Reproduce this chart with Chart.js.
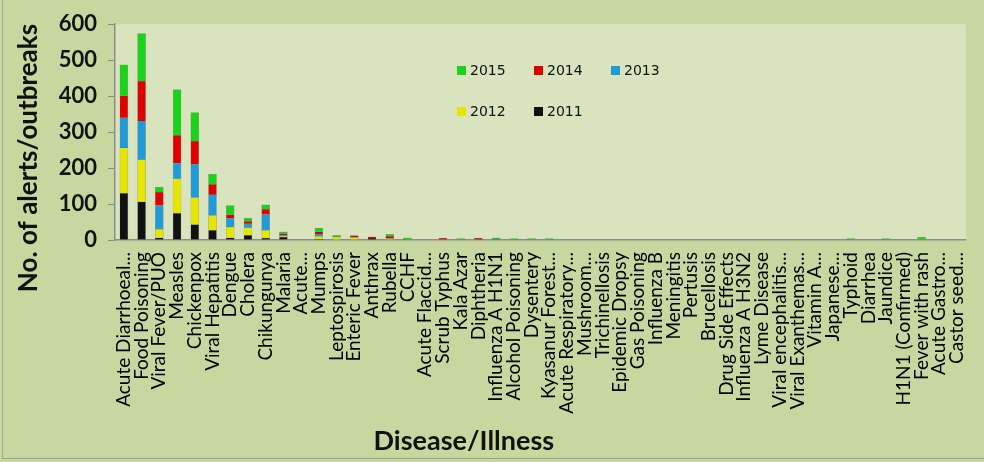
<!DOCTYPE html>
<html>
<head>
<meta charset="utf-8">
<script src="https://cdn.jsdelivr.net/npm/chart.js@4.4.0/dist/chart.umd.min.js"></script>
<style>
  html, body { margin: 0; padding: 0; background: #c6d89f; }
  canvas { display: block; }
</style>
</head>
<body>
<canvas id="chart" width="984" height="462"></canvas>
<script>
// 疾患別のアラート/アウトブレイク件数（2011〜2015、積み上げ）
const diseases = [
  'Acute Diarrhoeal...', 'Food Poisoning', 'Viral Fever/PUO', 'Measles', 'Chickenpox',
  'Viral Hepatitis', 'Dengue', 'Cholera', 'Chikungunya', 'Malaria',
  'Acute...', 'Mumps', 'Leptospirosis', 'Enteric Fever', 'Anthrax',
  'Rubella', 'CCHF', 'Acute Flaccid...', 'Scrub Typhus', 'Kala Azar',
  'Diphtheria', 'Influenza A H1N1', 'Alcohol Poisoning', 'Dysentery', 'Kyasanur Forest...',
  'Acute Respiratory...', 'Mushroom...', 'Trichinellosis', 'Epidemic Dropsy', 'Gas Poisoning',
  'Influenza B', 'Meningitis', 'Pertusis', 'Brucellosis', 'Drug Side Effects',
  'Influenza A H3N2', 'Lyme Disease', 'Viral encephalitis...', 'Viral Exanthemas...', 'Vitamin A...',
  'Japanese...', 'Typhoid', 'Diarrhea', 'Jaundice', 'H1N1 (Confirmed)',
  'Fever with rash', 'Acute Gastro...', 'Castor seed...',
];

const y2011 = [130, 106, 6, 74, 43, 27, 6, 13, 5, 8, 0, 1, 0, 0, 5, 0, 0, 0, 0, 0, 0, 0, 0, 0, 0,
  0, 0, 0, 0, 0, 0, 0, 0, 0, 0, 0, 0, 0, 0, 0, 0, 0, 0, 0, 0, 0, 0, 0];
const y2012 = [126, 117, 24, 96, 75, 41, 30, 21, 22, 3, 0, 9, 8, 7, 0, 4, 0, 0, 0, 0, 0, 0, 0, 0, 0,
  0, 0, 0, 0, 0, 0, 0, 0, 0, 0, 0, 0, 0, 0, 0, 0, 0, 0, 0, 0, 0, 0, 0];
const y2013 = [84, 108, 66, 44, 93, 58, 25, 11, 44, 3, 0, 7, 1, 1, 0, 1, 0, 0, 0, 0, 0, 3, 0, 0, 0,
  0, 0, 0, 0, 0, 0, 0, 0, 0, 0, 0, 0, 0, 0, 0, 0, 0, 0, 0, 0, 0, 0, 0];
const y2014 = [61, 111, 37, 77, 64, 29, 10, 7, 14, 4, 0, 6, 0, 4, 4, 5, 0, 0, 5, 0, 5, 0, 0, 0, 0,
  0, 0, 0, 0, 0, 0, 0, 0, 0, 0, 0, 0, 0, 0, 0, 0, 0, 0, 0, 0, 0, 0, 0];
const y2015 = [86, 132, 14, 127, 79, 28, 25, 9, 13, 5, 0, 10, 4, 0, 0, 6, 6, 0, 0, 4, 0, 3, 4, 4, 4,
  0, 0, 0, 0, 0, 0, 0, 0, 0, 0, 0, 0, 0, 0, 0, 0, 4, 0, 4, 0, 8, 0, 0];

const yTicks = [0, 100, 200, 300, 400, 500, 600];

// 背景（外枠と描画領域）
const backgroundPlugin = {
  id: 'bg',
  beforeDraw(chart) {
    const { ctx, chartArea: a, width, height } = chart;
    ctx.save();
    ctx.fillStyle = '#c6d89f';
    ctx.fillRect(0, 0, width, height);
    ctx.fillStyle = '#d9e4bf';
    ctx.fillRect(a.left, a.top, a.right - a.left, a.bottom - a.top);
    ctx.strokeStyle = '#9aa78a';
    ctx.lineWidth = 1;
    ctx.beginPath();
    ctx.moveTo(2.5, 0);
    ctx.lineTo(2.5, height - 3.5);
    ctx.lineTo(width, height - 3.5);
    ctx.stroke();
    ctx.restore();
  },
};

// 凡例（プロット内、2015→2011 の順、3列）
const insideLegend = {
  id: 'insideLegend',
  afterDatasetsDraw(chart) {
    const { ctx } = chart;
    const items = chart.data.datasets.slice().reverse();
    ctx.save();
    ctx.font = '14px Tahoma, "DejaVu Sans", sans-serif';
    ctx.textBaseline = 'middle';
    items.forEach((ds, i) => {
      const x = 457 + (i % 3) * 77;
      const y = 71 + Math.floor(i / 3) * 41;
      ctx.fillStyle = ds.backgroundColor;
      ctx.fillRect(x, y - 5, 9, 9);
      ctx.fillStyle = '#111';
      ctx.fillText(ds.label, x + 13, y);
    });
    ctx.restore();
  },
};

// 軸タイトル（元図の位置に合わせて手描き）
const axisTitles = {
  id: 'axisTitles',
  afterDraw(chart) {
    const { ctx, chartArea: a } = chart;
    ctx.save();
    ctx.fillStyle = '#111';
    ctx.textAlign = 'center';
    ctx.textBaseline = 'middle';
    ctx.font = 'bold 27px Lato, sans-serif';
    ctx.fillText('Disease/Illness', a.left + (a.right - a.left) * 0.41, 441);
    ctx.translate(29, 158);
    ctx.rotate(-Math.PI / 2);
    ctx.font = 'bold 26px Lato, sans-serif';
    ctx.fillText('No. of alerts/outbreaks', 0, 0);
    ctx.restore();
  },
};

const mk = (label, data, color) => ({
  label, data,
  backgroundColor: color,
  borderColor: 'rgba(40,40,40,0.35)',
  borderWidth: 0.5,
  barThickness: 8,
});

new Chart(document.getElementById('chart'), {
  type: 'bar',
  data: {
    labels: diseases,
    datasets: [
      mk('2011', y2011, '#111111'),
      mk('2012', y2012, '#e6e600'),
      mk('2013', y2013, '#1f9bd7'),
      mk('2014', y2014, '#e00000'),
      mk('2015', y2015, '#19d219'),
    ],
  },
  options: {
    responsive: false,
    animation: false,
    layout: { padding: { left: 0, top: 21, right: 16, bottom: 4 } },
    plugins: {
      legend: { display: false },
      tooltip: { enabled: false },
    },
    scales: {
      x: {
        stacked: true,
        grid: { display: false },
        border: { display: true, color: '#8c8c8c', width: 1.5 },
        ticks: {
          autoSkip: false, maxRotation: 90, minRotation: 90,
          color: '#000', padding: 4,
          font: { family: 'Lato', size: 19 },
        },
        afterFit: s => { s.height = 218; },
      },
      y: {
        stacked: true,
        min: 0, max: 600,
        afterBuildTicks: s => { s.ticks = yTicks.map(v => ({ value: v })); },
        grid: { drawOnChartArea: false, drawTicks: true, tickLength: 7, color: '#8c8c8c' },
        border: { display: true, color: '#8c8c8c', width: 1.5 },
        ticks: {
          color: '#111', padding: 11,
          font: { family: 'Lato', size: 22, weight: 'bold' },
        },
        afterFit: s => { s.width = 115; },
      },
    },
  },
  plugins: [backgroundPlugin, insideLegend, axisTitles],
});
</script>
</body>
</html>
